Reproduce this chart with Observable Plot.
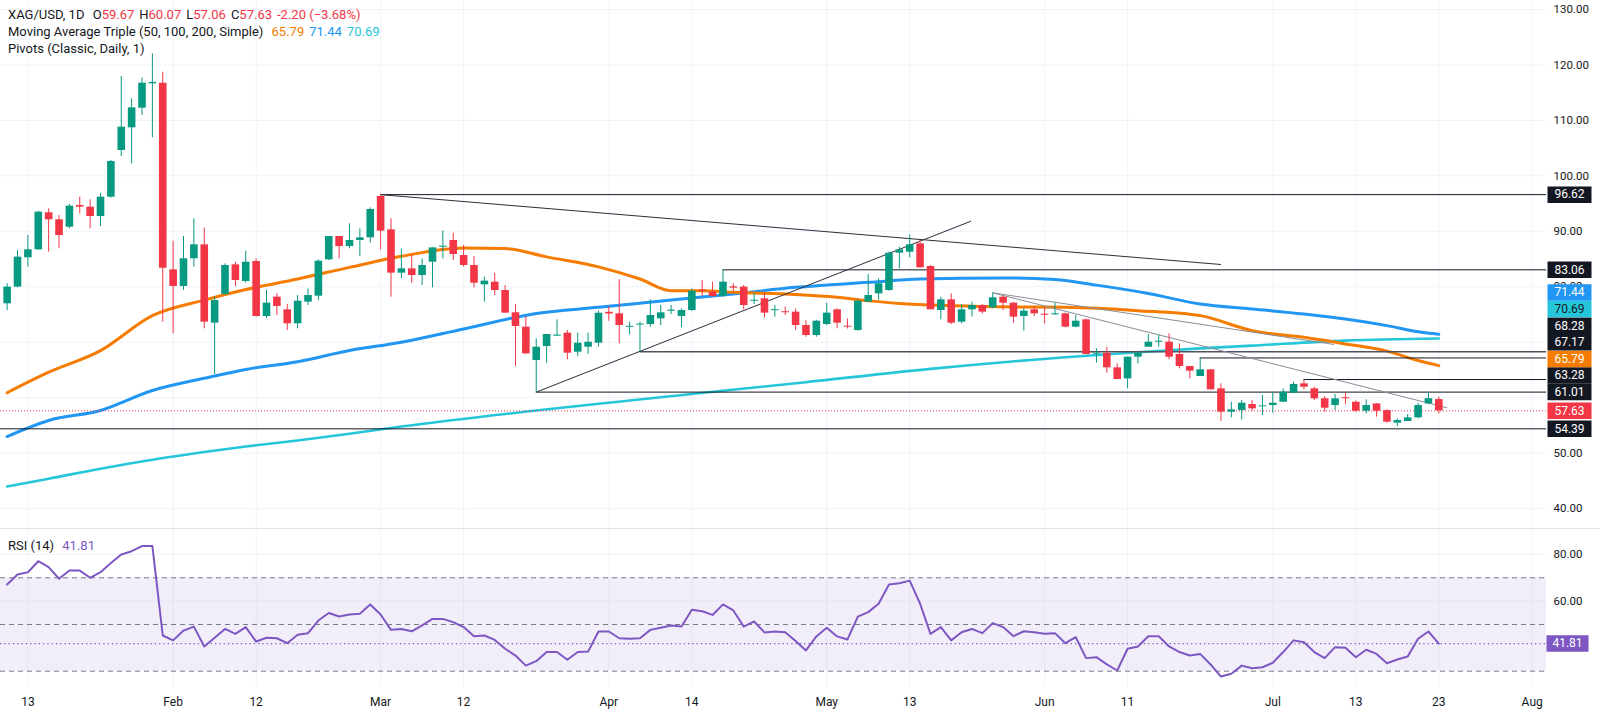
<!DOCTYPE html>
<html><head><meta charset="utf-8">
<script src="https://cdn.jsdelivr.net/npm/d3@7"></script>
<script src="https://cdn.jsdelivr.net/npm/@observablehq/plot@0.6"></script>
<style>
body{margin:0;background:#fff;}
#wrap{position:relative;width:1600px;height:717px;overflow:hidden;font-family:Roboto,"Noto Sans",sans-serif;background:#fff}
#main,#rsi{position:absolute;left:0;}
#main{top:0}
#rsi{top:528px}
#sep{position:absolute;left:0;top:528px;width:1600px;height:1px;background:#e0e3eb}
.lg{position:absolute;left:8px;font-size:13px;color:#131722;line-height:17px;white-space:nowrap}
.lg span{margin-left:5px}
</style></head><body>
<div id="wrap">
 <div id="main"></div><div id="rsi"></div><div id="sep"></div>
 <div id="legend" class="lg" style="top:6px"></div>
 <div id="rsilegend" class="lg" style="top:537px"></div>
</div>
<script>
// ---------- DATA ----------
const firstIndex = -2; // candle index of first visible bar (index 0 = Jan 13)
const opens = [
 76.93,79.94,85.23,86.67,93.34,92.08,90.75,94.66,94.36,92.68,
 96.16,104.58,108.66,112.21,116.60,116.72,83.06,80.06,85.05,87.57,
 73.45,78.62,83.96,80.96,84.56,74.65,78.13,75.85,73.33,77.23,
 78.31,84.86,89.07,87.27,88.35,88.83,96.28,90.27,82.46,83.24,
 82.04,84.44,87.15,88.35,85.64,83.84,80.35,80.83,79.33,75.31,
 72.72,66.71,69.24,71.10,71.64,68.21,69.11,69.83,75.40,75.13,
 72.70,73.10,73.20,74.22,75.60,74.64,75.73,79.40,79.03,78.25,
 80.00,79.94,77.40,77.83,75.70,75.50,75.43,73.02,71.22,73.20,
 75.85,72.90,72.12,77.23,78.73,79.33,86.06,86.24,87.75,83.66,
 75.73,77.65,73.62,75.85,76.63,76.21,78.13,77.05,74.64,75.85,
 75.05,74.95,75.13,72.72,74.04,67.85,68.03,65.39,63.40,67.31,
 69.11,70.00,70.02,67.79,65.63,63.83,65.03,61.60,57.39,57.69,
 58.77,58.35,58.59,59.19,60.82,62.50,61.60,59.80,58.59,60.00,
 59.19,57.57,58.89,57.69,55.41,55.71,56.37,58.89,59.67
];
const highs = [
 80.54,86.55,89.25,93.64,94.06,92.86,94.84,96.16,95.68,96.88,
 102.77,117.92,113.89,117.68,122.00,118.70,88.23,89.07,92.26,90.57,
 78.13,84.14,84.44,86.43,85.04,79.34,78.74,76.81,78.43,79.64,
 84.86,89.07,89.07,91.36,90.45,94.24,96.62,92.26,86.85,85.65,
 85.04,87.02,90.10,89.67,87.45,85.46,81.74,82.46,80.23,76.81,
 74.64,70.62,71.40,74.04,72.12,71.64,71.64,75.61,76.45,81.26,
 73.62,73.62,77.65,76.63,76.63,76.03,79.63,81.14,80.84,83.06,
 80.54,80.23,78.85,78.85,76.63,76.33,76.00,73.90,73.95,77.05,
 76.00,74.20,77.65,82.20,81.44,86.24,87.15,89.37,88.35,83.85,
 78.13,78.73,76.81,77.23,76.81,78.91,78.31,77.20,76.03,76.45,
 76.21,77.05,75.25,74.82,74.20,68.82,69.11,66.11,67.31,68.03,
 71.40,71.22,71.52,69.71,65.63,67.17,65.03,62.50,59.19,59.50,
 59.50,60.40,61.00,61.60,62.80,63.28,61.90,60.22,60.58,60.82,
 59.40,59.62,58.89,57.80,56.20,56.97,59.00,61.00,60.07
];
const lows = [
 75.73,79.80,83.54,86.60,86.25,86.85,90.45,93.16,90.45,90.87,
 96.00,103.49,102.17,110.89,106.86,73.63,71.52,79.34,83.54,72.43,
 64.19,78.43,80.05,80.66,74.53,74.23,74.83,72.12,72.42,76.63,
 77.53,84.74,85.04,86.85,85.47,87.87,86.67,78.13,81.44,80.66,
 80.24,79.81,85.04,84.74,83.54,79.81,77.23,78.43,75.25,65.63,
 67.79,61.01,66.23,71.04,66.83,67.43,67.79,69.11,73.80,69.71,
 71.34,68.28,72.72,73.02,75.00,72.60,75.55,78.25,78.13,78.13,
 79.21,75.85,76.81,74.40,74.52,74.82,72.12,70.90,70.90,73.00,
 72.42,72.40,72.00,77.20,77.53,79.20,83.24,85.22,83.40,75.85,
 74.04,73.20,73.32,74.52,75.13,76.03,75.73,73.44,72.00,74.64,
 73.32,74.90,72.60,72.60,67.79,66.23,64.43,63.28,61.60,66.11,
 69.11,69.11,66.83,65.21,63.40,63.83,61.42,55.71,56.37,56.00,
 57.57,56.80,57.20,59.19,60.82,61.42,59.50,57.39,57.69,58.77,
 57.39,57.10,56.50,55.41,54.80,55.71,56.20,58.77,57.06
];
const closes = [
 79.94,85.35,86.67,93.46,92.08,89.25,94.54,94.36,92.68,96.16,
 102.59,108.78,112.27,116.72,116.85,83.36,80.06,85.05,87.57,73.63,
 77.53,83.84,81.14,84.44,74.65,77.05,76.45,73.33,77.41,78.43,
 84.62,89.07,87.27,88.35,88.83,93.94,90.03,82.46,83.24,82.04,
 83.84,87.02,87.30,85.82,83.84,80.65,81.02,79.33,75.25,72.84,
 67.91,69.11,71.40,71.30,68.03,69.83,70.00,75.24,75.10,73.02,
 72.84,73.20,74.83,75.31,75.80,75.73,79.21,79.20,78.25,80.84,
 79.76,76.63,77.50,75.25,75.85,75.40,73.02,71.22,73.80,75.25,
 73.44,72.80,77.41,78.43,80.53,86.06,86.66,87.57,83.42,75.85,
 77.65,73.44,75.85,76.63,75.43,78.01,77.05,74.52,75.61,75.13,
 74.95,75.05,72.72,73.80,67.79,67.95,65.39,63.28,67.31,68.03,
 70.02,70.10,67.31,65.63,64.79,65.03,61.42,57.39,57.81,59.01,
 57.99,58.45,59.01,61.00,62.38,61.90,59.80,58.11,59.80,59.95,
 57.57,58.59,57.57,55.59,55.89,56.37,58.59,59.83,57.63
];
const rsiValues = [
 67.1,71.4,72.4,77.1,74.6,69.6,73.1,73.1,70.0,72.4,
 76.3,80.0,81.4,83.6,83.6,45.3,43.2,47.4,49.1,40.6,
 44.3,48.1,46.0,48.9,42.7,44.3,44.1,42.0,45.6,46.3,
 51.7,54.9,53.4,54.3,54.6,58.6,54.3,47.7,48.1,47.1,
 49.6,52.4,52.4,51.0,48.9,45.0,45.3,43.4,39.6,36.7,
 32.4,34.3,38.2,38.2,34.9,38.2,38.4,47.0,47.0,44.1,
 43.9,44.1,47.7,48.6,49.6,49.1,56.3,55.7,54.1,58.6,
 56.0,49.1,51.3,46.6,47.0,46.7,42.9,38.9,44.9,48.6,
 44.9,43.6,53.4,55.3,58.9,67.1,67.7,68.8,58.9,46.0,
 48.9,43.2,46.7,48.1,46.3,50.6,48.9,45.0,47.1,46.7,
 46.0,46.3,42.0,44.6,35.6,36.0,32.9,30.3,39.6,40.6,
 45.0,45.0,40.6,38.2,36.7,37.4,32.9,27.7,28.9,32.4,
 31.3,31.7,33.6,38.2,43.2,42.4,38.2,35.6,40.3,40.0,
 36.0,39.2,37.4,33.4,35.0,36.3,43.9,47.0,41.81
];
// Moving averages read at selected bars
const ma50Idx  = [-2,2,7,12,17,21,26,31,36,42,46,50,55,59,62,65,68,74,78,81,84,94,100,107,113,118,123,127,131,134,136];
const ma50Val  = [60.9,64.6,68.5,74.8,77.6,79.5,81.4,83.5,85.5,87.0,86.9,85.4,83.6,81.4,79.3,79.3,79.0,78.6,78.1,77.5,77.0,76.4,76.3,75.7,74.8,72.1,70.9,69.7,68.4,66.7,65.79];
const ma100Idx = [-2,2,7,12,17,21,26,31,36,42,49,55,62,68,74,81,86,94,99,103,108,113,118,123,127,131,134,136];
const ma100Val = [53.0,55.9,57.7,61.3,63.5,65.1,66.5,68.5,70.0,72.4,75.2,76.3,77.6,78.7,79.9,80.8,81.4,81.6,81.3,80.3,78.8,76.9,76.0,75.1,74.2,73.0,71.9,71.44];
const ma200Idx = [-2,2,7,12,17,21,26,31,36,58,75,87,100,107,113,118,127,136];
const ma200Val = [44.0,45.4,47.2,48.8,50.2,51.2,52.3,53.5,54.8,59.5,62.8,65.2,67.3,68.2,68.9,69.4,70.3,70.69];
// Pivot levels and the bar each one starts from (null = from left edge)
const pivotValues = [96.62,83.06,68.28,67.17,63.28,61.01,54.39];
const pivotStart  = [34,67,59,113,123,49,null];
// Drawn trend lines (bar index / price)
const trendX1 = [34,49,93,93];
const trendY1 = [96.62,61.01,78.91,78.91];
const trendX2 = [115,90.9,125.9,136.8];
const trendY2 = [84.02,91.83,69.6,58.18];
const trendColor = ["#2a2e39","#2a2e39","#8a8d96","#8a8d96"];
// Axes
const priceGrid = [40,50,60,70,80,90,100,110,120,130];
const priceTickLabels = [40,50,80,90,100,110,120,130]; // 60 and 70 are hidden behind the price tags
const rsiTicks = [80,60];
const xTickIdx = [0,14,22,34,42,56,64,77,85,98,106,120,128,136,145];
const xTickLabels = ["13","Feb","12","Mar","12","Apr","14","May","13","Jun","11","Jul","13","23","Aug"];

// ---------- BUILD ----------
const GREEN="#089981", RED="#f23645", ORANGE="#f57c00", BLUE="#2196f3", TEAL="#26c6da", PURPLE="#7e57c2", INK="#131722", GRID="#f0f3fa";
const xDomain=[-2.64,146.38];
const W=1600, MR=54, H1=528, H2=189, MB2=30;
const yDomain=[36.42,131.623], rDomain=[23.02,91.11];

const candles = opens.map((o,k)=>({i:k+firstIndex,o,h:highs[k],l:lows[k],c:closes[k]}));
candles.forEach(d=>{d.col = d.c>=d.o?GREEN:RED; d.c2 = Math.abs(d.c-d.o)<0.18 ? d.o+(d.c>=d.o?0.18:-0.18) : d.c;});
const rsi = rsiValues.map((v,k)=>({i:k+firstIndex,v}));
const toSeries=(ix,vs)=>ix.map((i,k)=>({i,v:vs[k]}));
const ma50=toSeries(ma50Idx,ma50Val), ma100=toSeries(ma100Idx,ma100Val), ma200=toSeries(ma200Idx,ma200Val);
const pivots = pivotValues.map((v,k)=>({v,x1:pivotStart[k]==null?xDomain[0]:pivotStart[k],col:v===68.28?"#50535e":INK,w:v===68.28?1.6:1}));
const trends = trendX1.map((x,k)=>({x1:x,y1:trendY1[k],x2:trendX2[k],y2:trendY2[k],col:trendColor[k]}));
const labelMap = new Map(xTickIdx.map((d,k)=>[d,xTickLabels[k]]));

const last = candles[candles.length-1], prevClose = closes[closes.length-2];
const lastMA50=ma50Val.at(-1), lastMA100=ma100Val.at(-1), lastMA200=ma200Val.at(-1), lastRSI=rsiValues.at(-1);

const box=(w,h)=>({draw(ctx){ctx.moveTo(-w/2,-h/2);ctx.lineTo(w/2,-h/2);ctx.lineTo(w/2,h/2);ctx.lineTo(-w/2,h/2);ctx.closePath();}});
function dodgeTags(tags, scale, h){
  const s = tags.map(t=>({...t,py:scale.apply(t.v)})).sort((a,b)=>a.v-b.v);
  let prev=Infinity;
  for(const t of s){t.py=Math.min(t.py,prev-h);prev=t.py;t.ty=scale.invert(t.py);t.label=t.v.toFixed(2);}
  return s;
}
const yS = Plot.scale({y:{domain:yDomain,range:[H1,0]}});
const tagDefs = [
  {v:pivotValues[0],bg:INK,fg:"#fff"},{v:pivotValues[1],bg:INK,fg:"#fff"},
  {v:lastMA100,bg:BLUE,fg:"#fff"},{v:lastMA200,bg:TEAL,fg:INK},
  {v:pivotValues[2],bg:INK,fg:"#fff"},{v:pivotValues[3],bg:INK,fg:"#fff"},
  {v:lastMA50,bg:ORANGE,fg:"#fff"},{v:pivotValues[4],bg:INK,fg:"#fff"},
  {v:pivotValues[5],bg:INK,fg:"#fff"},{v:last.c,bg:RED,fg:"#fff"},
  {v:pivotValues[6],bg:INK,fg:"#fff"}
];
const tags = dodgeTags(tagDefs,yS,16.6);
const FONT = "Roboto, 'Noto Sans', sans-serif";

const main = Plot.plot({
  width:W,height:H1,marginLeft:0,marginRight:MR,marginTop:0,marginBottom:0,
  style:{fontFamily:FONT,fontSize:"11.5px",color:INK,background:"#fff",overflow:"visible"},
  x:{domain:xDomain,axis:null,label:null},
  y:{domain:yDomain,axis:null,label:null},
  marks:[
    Plot.ruleY(priceGrid,{stroke:GRID}),
    Plot.ruleX(xTickIdx,{stroke:GRID}),
    Plot.axisY(priceTickLabels,{anchor:"right",tickSize:0,tickPadding:7,tickFormat:d=>d.toFixed(2),fontSize:11.5}),
    Plot.line(ma200,{x:"i",y:"v",stroke:TEAL,strokeWidth:2.6,curve:"monotone-x"}),
    Plot.line(ma100,{x:"i",y:"v",stroke:BLUE,strokeWidth:3,curve:"monotone-x"}),
    Plot.line(ma50,{x:"i",y:"v",stroke:ORANGE,strokeWidth:3,curve:"monotone-x"}),
    Plot.ruleY(pivots,{y:"v",x1:"x1",x2:xDomain[1],stroke:"col",strokeWidth:"w"}),
    Plot.ruleY([last.c],{stroke:RED,strokeDasharray:"1,2"}),
    Plot.link(trends,{x1:"x1",y1:"y1",x2:"x2",y2:"y2",stroke:"col",strokeWidth:1}),
    Plot.ruleX(candles,{x:"i",y1:"l",y2:"h",stroke:"col",strokeWidth:1}),
    Plot.ruleX(candles,{x:"i",y1:"o",y2:"c2",stroke:"col",strokeWidth:7.6}),
    Plot.dot(tags,{y:"ty",frameAnchor:"right",dx:23,symbol:box(44,16.5),fill:"bg",r:4}),
    Plot.text(tags,{y:"ty",text:"label",frameAnchor:"right",dx:23,fill:"fg",textAnchor:"middle",fontSize:12})
  ]
});
document.getElementById("main").appendChild(main);

const rS = Plot.scale({y:{domain:rDomain,range:[H2-MB2,0]}});
const rsiTags = dodgeTags([{v:lastRSI,bg:PURPLE,fg:"#fff"}],rS,16.6);
const rsiPlot = Plot.plot({
  width:W,height:H2,marginLeft:0,marginRight:MR,marginTop:0,marginBottom:MB2,
  style:{fontFamily:FONT,fontSize:"11.5px",color:INK,background:"#fff",overflow:"visible"},
  x:{domain:xDomain,label:null,axis:null},
  y:{domain:rDomain,axis:null,label:null},
  marks:[
    Plot.ruleX(xTickIdx,{stroke:GRID}),
    Plot.ruleY(rsiTicks,{stroke:GRID}),
    Plot.rect([0],{x1:xDomain[0],x2:xDomain[1],y1:30,y2:70,fill:PURPLE,fillOpacity:0.1}),
    Plot.ruleY([70,50,30],{stroke:"#787b86",strokeDasharray:"5,4"}),
    Plot.ruleY([lastRSI],{stroke:PURPLE,strokeDasharray:"1.3,3",strokeWidth:1.3}),
    Plot.line(rsi,{x:"i",y:"v",stroke:PURPLE,strokeWidth:2}),
    Plot.axisX(xTickIdx,{anchor:"bottom",tickSize:0,tickPadding:10,tickFormat:d=>labelMap.get(d),fontSize:12}),
    Plot.axisY(rsiTicks,{anchor:"right",tickSize:0,tickPadding:7,tickFormat:d=>d.toFixed(2),fontSize:11.5}),
    Plot.dot(rsiTags,{y:"ty",frameAnchor:"right",dx:21,symbol:box(42,16.5),fill:"bg",r:4}),
    Plot.text(rsiTags,{y:"ty",text:"label",frameAnchor:"right",dx:21,fill:"fg",textAnchor:"middle",fontSize:12})
  ]
});
document.getElementById("rsi").appendChild(rsiPlot);

// Legends
const chg = last.c - prevClose, pct = chg/prevClose*100;
const r = s=>`<span style="color:${RED};margin-left:0">${s}</span>`;
document.getElementById("legend").innerHTML =
 `<div>XAG/USD, 1D <span>O${r(last.o.toFixed(2))}</span><span>H${r(last.h.toFixed(2))}</span><span>L${r(last.l.toFixed(2))}</span><span>C${r(last.c.toFixed(2))}</span><span style="color:${RED}">${chg.toFixed(2)} (${pct<0?"−":"+"}${Math.abs(pct).toFixed(2)}%)</span></div>`+
 `<div>Moving Average Triple (50, 100, 200, Simple) <span style="color:${ORANGE}">${lastMA50.toFixed(2)}</span><span style="color:${BLUE}">${lastMA100.toFixed(2)}</span><span style="color:${TEAL}">${lastMA200.toFixed(2)}</span></div>`+
 `<div>Pivots (Classic, Daily, 1)</div>`;
document.getElementById("rsilegend").innerHTML = `RSI (14) <span style="color:${PURPLE}">${lastRSI.toFixed(2)}</span>`;
</script>
</body></html>
